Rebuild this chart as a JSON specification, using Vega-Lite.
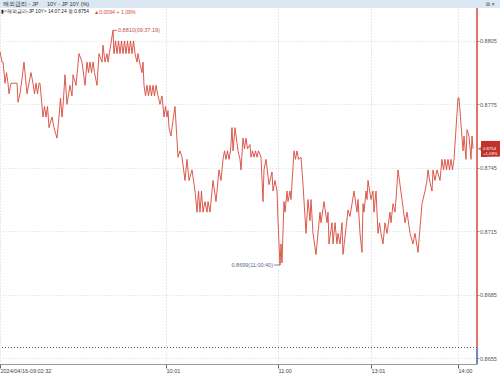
{
  "$schema": "https://vega.github.io/schema/vega-lite/v6.json",
  "width": 477,
  "height": 355,
  "autosize": {"type": "none"},
  "padding": {"left": 0, "top": 9, "right": 23, "bottom": 10},
  "background": "white",
  "config": {
    "view": {"stroke": null},
    "axis": {"labelFont": "Liberation Sans", "labelColor": "#444444"}
  },
  "datasets": {
    "series": [
      {"n":0,"v":0.8800},{"n":2,"v":0.8795},{"n":3,"v":0.8795},{"n":5,"v":0.8785},{"n":6.5,"v":0.8790},{"n":8,"v":0.8785},{"n":9,"v":0.8780},{"n":11,"v":0.8785},{"n":14,"v":0.8785},{"n":17,"v":0.8785},{"n":18,"v":0.8776},{"n":20,"v":0.8780},{"n":22,"v":0.8787},{"n":24,"v":0.8795},{"n":27,"v":0.8780},{"n":29,"v":0.8785},{"n":31,"v":0.8790},{"n":33,"v":0.8785},{"n":34.5,"v":0.8780},{"n":36,"v":0.8785},{"n":37.5,"v":0.8780},{"n":39,"v":0.8785},{"n":40,"v":0.8785},
      {"n":43,"v":0.8769},{"n":44.5,"v":0.8774},{"n":46,"v":0.8769},{"n":47.5,"v":0.8774},{"n":49,"v":0.8764},{"n":52,"v":0.8769},{"n":54,"v":0.8764},{"n":57,"v":0.8759},{"n":59,"v":0.8769},{"n":60.5,"v":0.8778},{"n":62,"v":0.8769},{"n":63,"v":0.8774},{"n":65,"v":0.8789},{"n":67,"v":0.8775},{"n":70,"v":0.8784},{"n":72,"v":0.8779},{"n":73,"v":0.8789},{"n":76,"v":0.8784},{"n":79,"v":0.8799},{"n":82,"v":0.8795},{"n":85,"v":0.8784},
      {"n":87,"v":0.8795},{"n":88.5,"v":0.8790},{"n":90,"v":0.8795},{"n":91.5,"v":0.8790},{"n":93,"v":0.8795},{"n":94.5,"v":0.8790},{"n":97,"v":0.8784},{"n":99,"v":0.8799},{"n":102,"v":0.8795},{"n":103,"v":0.8803},{"n":105,"v":0.8795},{"n":107,"v":0.8799},{"n":108,"v":0.8795},{"n":113,"v":0.8810},
      {"n":114,"v":0.8799},{"n":115.5,"v":0.8805},{"n":117,"v":0.8799},{"n":118.5,"v":0.8805},{"n":120,"v":0.8799},{"n":121.5,"v":0.8805},{"n":123,"v":0.8799},{"n":124.5,"v":0.8805},{"n":126,"v":0.8799},{"n":127.5,"v":0.8805},{"n":129,"v":0.8799},{"n":130.5,"v":0.8805},{"n":132,"v":0.8799},{"n":133.5,"v":0.8805},{"n":135,"v":0.8799},{"n":137,"v":0.8795},{"n":138,"v":0.8799},{"n":140,"v":0.8794},{"n":142,"v":0.8790},{"n":143,"v":0.8795},
      {"n":144,"v":0.8784},{"n":145.5,"v":0.8779},{"n":147,"v":0.8784},{"n":148.5,"v":0.8779},{"n":150,"v":0.8784},{"n":151.5,"v":0.8779},{"n":153,"v":0.8784},{"n":154.5,"v":0.8779},{"n":156,"v":0.8784},{"n":158,"v":0.8779},{"n":160,"v":0.8775},{"n":162,"v":0.8779},{"n":164,"v":0.8769},{"n":165.5,"v":0.8774},{"n":167,"v":0.8769},{"n":168,"v":0.8772},{"n":169,"v":0.8764},{"n":171,"v":0.8760},{"n":172,"v":0.8764},{"n":175,"v":0.8774},
      {"n":178,"v":0.8750},{"n":180,"v":0.8753},{"n":182,"v":0.8750},{"n":185,"v":0.8739},{"n":187,"v":0.8749},{"n":189,"v":0.8739},{"n":192,"v":0.8744},{"n":195,"v":0.8734},{"n":197,"v":0.8724},{"n":198.5,"v":0.8734},{"n":200,"v":0.8724},{"n":201.5,"v":0.8734},{"n":203,"v":0.8724},{"n":205,"v":0.8729},{"n":207,"v":0.8724},{"n":208,"v":0.8729},{"n":210,"v":0.8724},{"n":213,"v":0.8739},{"n":216,"v":0.8729},{"n":219,"v":0.8744},{"n":221,"v":0.8739},
      {"n":223,"v":0.8749},{"n":224.5,"v":0.8753},{"n":226,"v":0.8749},{"n":227.5,"v":0.8753},{"n":229,"v":0.8749},{"n":230.5,"v":0.8753},{"n":232,"v":0.8764},{"n":233,"v":0.8753},{"n":235,"v":0.8764},{"n":238,"v":0.8753},{"n":240,"v":0.8749},{"n":241,"v":0.8744},{"n":243,"v":0.8759},{"n":244.5,"v":0.8754},{"n":246,"v":0.8759},{"n":247.5,"v":0.8754},{"n":250,"v":0.8756},
      {"n":251,"v":0.8750},{"n":252.5,"v":0.8753},{"n":254,"v":0.8750},{"n":255.5,"v":0.8753},{"n":257,"v":0.8750},{"n":258.5,"v":0.8753},{"n":261,"v":0.8750},{"n":263,"v":0.8729},{"n":264,"v":0.8744},{"n":266,"v":0.8749},{"n":269,"v":0.8737},{"n":272,"v":0.8743},{"n":273,"v":0.8734},{"n":275,"v":0.8739},{"n":277,"v":0.8734},{"n":278,"v":0.8720},{"n":279,"v":0.8709},{"n":280,"v":0.8699},{"n":281,"v":0.8709},{"n":282,"v":0.8700},
      {"n":284,"v":0.8729},{"n":285,"v":0.8724},{"n":287,"v":0.8734},{"n":288,"v":0.8729},{"n":290,"v":0.8734},{"n":291,"v":0.8730},{"n":294,"v":0.8753},{"n":295.5,"v":0.8749},{"n":297,"v":0.8753},{"n":298.5,"v":0.8749},{"n":301,"v":0.8750},{"n":303,"v":0.8737},{"n":306,"v":0.8714},{"n":308,"v":0.8730},{"n":310,"v":0.8720},{"n":311,"v":0.8730},{"n":313,"v":0.8714},{"n":316,"v":0.8704},
      {"n":320,"v":0.8724},{"n":321,"v":0.8719},{"n":324,"v":0.8729},{"n":327,"v":0.8719},{"n":328,"v":0.8724},{"n":329,"v":0.8709},{"n":332,"v":0.8719},{"n":333,"v":0.8709},{"n":335,"v":0.8719},{"n":337,"v":0.8709},{"n":338,"v":0.8714},{"n":340,"v":0.8709},{"n":342,"v":0.8719},{"n":343,"v":0.8704},{"n":348,"v":0.8725},{"n":350,"v":0.8722},{"n":354,"v":0.8734},{"n":357,"v":0.8724},{"n":358,"v":0.8730},{"n":360,"v":0.8714},
      {"n":362,"v":0.8705},{"n":363,"v":0.8728},{"n":364,"v":0.8724},{"n":366,"v":0.8734},{"n":367,"v":0.8730},{"n":368,"v":0.8739},{"n":371,"v":0.8730},{"n":373,"v":0.8734},{"n":374,"v":0.8724},{"n":376,"v":0.8734},{"n":378,"v":0.8714},{"n":379.5,"v":0.8719},{"n":381,"v":0.8714},{"n":383,"v":0.8709},{"n":385,"v":0.8719},{"n":387,"v":0.8714},{"n":390,"v":0.8724},{"n":391,"v":0.8719},{"n":393,"v":0.8728},{"n":395,"v":0.8724},{"n":396,"v":0.8730},{"n":398,"v":0.8744},
      {"n":402,"v":0.8730},{"n":405,"v":0.8719},{"n":407,"v":0.8724},{"n":410,"v":0.8714},{"n":413,"v":0.8709},{"n":415,"v":0.8714},{"n":418,"v":0.8705},{"n":422,"v":0.8728},{"n":425,"v":0.8734},{"n":427,"v":0.8739},{"n":428,"v":0.8744},{"n":430,"v":0.8738},{"n":432,"v":0.8734},{"n":433,"v":0.8744},{"n":435,"v":0.8739},{"n":437,"v":0.8744},{"n":440,"v":0.8739},
      {"n":442,"v":0.8749},{"n":443.5,"v":0.8744},{"n":445,"v":0.8749},{"n":446.5,"v":0.8744},{"n":448,"v":0.8749},{"n":449.5,"v":0.8744},{"n":451,"v":0.8749},{"n":452.5,"v":0.8744},{"n":454,"v":0.8749},{"n":458,"v":0.8778},{"n":459,"v":0.8778},{"n":463,"v":0.8753},{"n":464,"v":0.8760},{"n":466,"v":0.8749},{"n":467,"v":0.8763},{"n":469,"v":0.8760},{"n":471,"v":0.8749},{"n":472,"v":0.8760},{"n":473,"v":0.8754}
    ],
    "extremes": [
      {"n":113,"v":0.8810,"label":"0.8810(09:37:19)","kind":"max"},
      {"n":280,"v":0.8699,"label":"0.8699(11:00:40)","kind":"min"}
    ]
  },
  "layer": [
    {
      "data": {"values": [{}]},
      "mark": {"type": "rect", "color": "#dbe7f3", "clip": false},
      "encoding": {
        "x": {"datum": 0, "type": "quantitative"},
        "x2": {"datum": 500},
        "y": {"datum": 0.88206, "type": "quantitative"},
        "y2": {"datum": 0.8826}
      }
    },
    {
      "data": {"values": [
        {"x": 3, "t": "해외금리 - JP", "f": "Noto Sans CJK KR"},
        {"x": 47, "t": "10Y - JP 10Y (%)", "f": "Noto Sans CJK KR"},
        {"x": 486, "t": "⧉ ×", "f": "DejaVu Sans"}
      ]},
      "mark": {"type": "text", "align": "left", "baseline": "middle", "fontSize": 5.5, "color": "#333333"},
      "encoding": {
        "x": {"field": "x", "type": "quantitative"},
        "y": {"datum": 0.88226, "type": "quantitative"},
        "text": {"field": "t"},
        "font": {"field": "f", "type": "nominal", "scale": null}
      }
    },
    {
      "data": {"name": "series"},
      "mark": {"type": "line", "color": "#d8473a", "strokeWidth": 0.9, "interpolate": "linear"},
      "encoding": {
        "x": {
          "field": "n",
          "type": "quantitative",
          "scale": {"domain": [0, 477], "nice": false, "zero": false},
          "axis": {
            "title": null,
            "orient": "bottom",
            "values": [0, 166, 278, 371, 458],
            "labelExpr": "datum.value == 0 ? '2024/04/16-09:02:32' : datum.value == 166 ? '10:01' : datum.value == 278 ? '11:00' : datum.value == 371 ? '13:01' : '14:00'",
            "labelAlign": "left",
            "labelFontSize": 5.5,
            "labelPadding": 0,
            "labelDx": 1,
            "labelFlush": false,
            "labelOverlap": false,
            "tickSize": 4,
            "tickColor": "#666666",
            "domainColor": "#999999",
            "grid": true,
            "gridColor": "#d0d0d0",
            "gridDash": [1, 2]
          }
        },
        "y": {
          "field": "v",
          "type": "quantitative",
          "scale": {"domain": [0.86522, 0.88201], "nice": false, "zero": false},
          "axis": {
            "title": null,
            "orient": "right",
            "values": [0.8655, 0.867, 0.8685, 0.87, 0.8715, 0.873, 0.8745, 0.876, 0.8775, 0.879, 0.8805],
            "format": ".4f",
            "labelFontSize": 5.5,
            "labelPadding": 0.5,
            "labelColor": "#555555",
            "tickSize": 2,
            "tickColor": "#999999",
            "domain": false,
            "grid": true,
            "gridColor": "#d8d8d8",
            "gridDash": [1, 2]
          }
        }
      }
    },
    {
      "data": {"values": [{}]},
      "mark": {"type": "rule", "color": "#555555", "strokeDash": [1, 2], "strokeWidth": 1},
      "encoding": {"y": {"datum": 0.8660, "type": "quantitative"}}
    },
    {
      "data": {"values": [{}]},
      "mark": {"type": "rule", "color": "#d8473a", "strokeWidth": 1.5},
      "encoding": {
        "x": {"datum": 477, "type": "quantitative"},
        "y": {"datum": 0.8660, "type": "quantitative"},
        "y2": {"datum": 0.88206}
      }
    },
    {
      "data": {"values": [{}]},
      "mark": {"type": "rule", "color": "#3b63b5", "strokeWidth": 1.5},
      "encoding": {
        "x": {"datum": 477, "type": "quantitative"},
        "y": {"datum": 0.86522, "type": "quantitative"},
        "y2": {"datum": 0.8660}
      }
    },
    {
      "data": {"name": "extremes"},
      "transform": [{"filter": "datum.kind == 'max'"}],
      "layer": [
        {
          "mark": {"type": "rule", "color": "#c0504d", "strokeWidth": 0.8},
          "encoding": {
            "x": {"field": "n", "type": "quantitative"},
            "x2": {"datum": 117},
            "y": {"field": "v", "type": "quantitative"}
          }
        },
        {
          "mark": {"type": "text", "align": "left", "baseline": "middle", "dx": 5, "font": "Liberation Sans", "fontSize": 5.5, "color": "#c0504d"},
          "encoding": {
            "x": {"field": "n", "type": "quantitative"},
            "y": {"field": "v", "type": "quantitative"},
            "text": {"field": "label"}
          }
        }
      ]
    },
    {
      "data": {"name": "extremes"},
      "transform": [{"filter": "datum.kind == 'min'"}],
      "layer": [
        {
          "mark": {"type": "rule", "color": "#5a6a8a", "strokeWidth": 0.8},
          "encoding": {
            "x": {"field": "n", "type": "quantitative"},
            "x2": {"datum": 274},
            "y": {"field": "v", "type": "quantitative"}
          }
        },
        {
          "mark": {"type": "text", "align": "right", "baseline": "middle", "dx": -7, "font": "Liberation Sans", "fontSize": 5.5, "color": "#5a6a8a"},
          "encoding": {
            "x": {"field": "n", "type": "quantitative"},
            "y": {"field": "v", "type": "quantitative"},
            "text": {"field": "label"}
          }
        }
      ]
    },
    {
      "data": {"values": [{"n": 473, "v": 0.8754, "box": "0.8754\n+1.09%\n▲0.0094"}]},
      "layer": [
        {
          "mark": {"type": "rect", "color": "#c0322b", "clip": false},
          "encoding": {
            "x": {"datum": 481, "type": "quantitative"},
            "x2": {"datum": 500},
            "y": {"datum": 0.87577, "type": "quantitative"},
            "y2": {"datum": 0.87501}
          }
        },
        {
          "mark": {"type": "point", "shape": "triangle-left", "filled": true, "color": "#c0322b", "size": 14, "clip": false},
          "encoding": {
            "x": {"datum": 479.5, "type": "quantitative"},
            "y": {"field": "v", "type": "quantitative"}
          }
        },
        {
          "mark": {"type": "text", "align": "left", "baseline": "middle", "font": "Liberation Sans", "fontSize": 4.3, "lineHeight": 4.8, "color": "white", "lineBreak": "\n"},
          "encoding": {
            "x": {"datum": 483, "type": "quantitative"},
            "y": {"field": "v", "type": "quantitative"},
            "text": {"field": "box"}
          }
        }
      ]
    },
    {
      "data": {"values": [
        {"x": 1, "t": "▮<해외금리-JP 10Y> 14:07:24 종:0.8754", "c": "#222222", "s": 4.8},
        {"x": 94, "t": "▲0.0094  + 1.09%", "c": "#d8473a", "s": 5.2}
      ]},
      "mark": {"type": "text", "align": "left", "baseline": "middle", "font": "Liberation Sans"},
      "encoding": {
        "x": {"field": "x", "type": "quantitative"},
        "y": {"datum": 0.88189, "type": "quantitative"},
        "text": {"field": "t"},
        "color": {"field": "c", "type": "nominal", "scale": null},
        "size": {"field": "s", "type": "quantitative", "scale": null}
      }
    }
  ]
}
